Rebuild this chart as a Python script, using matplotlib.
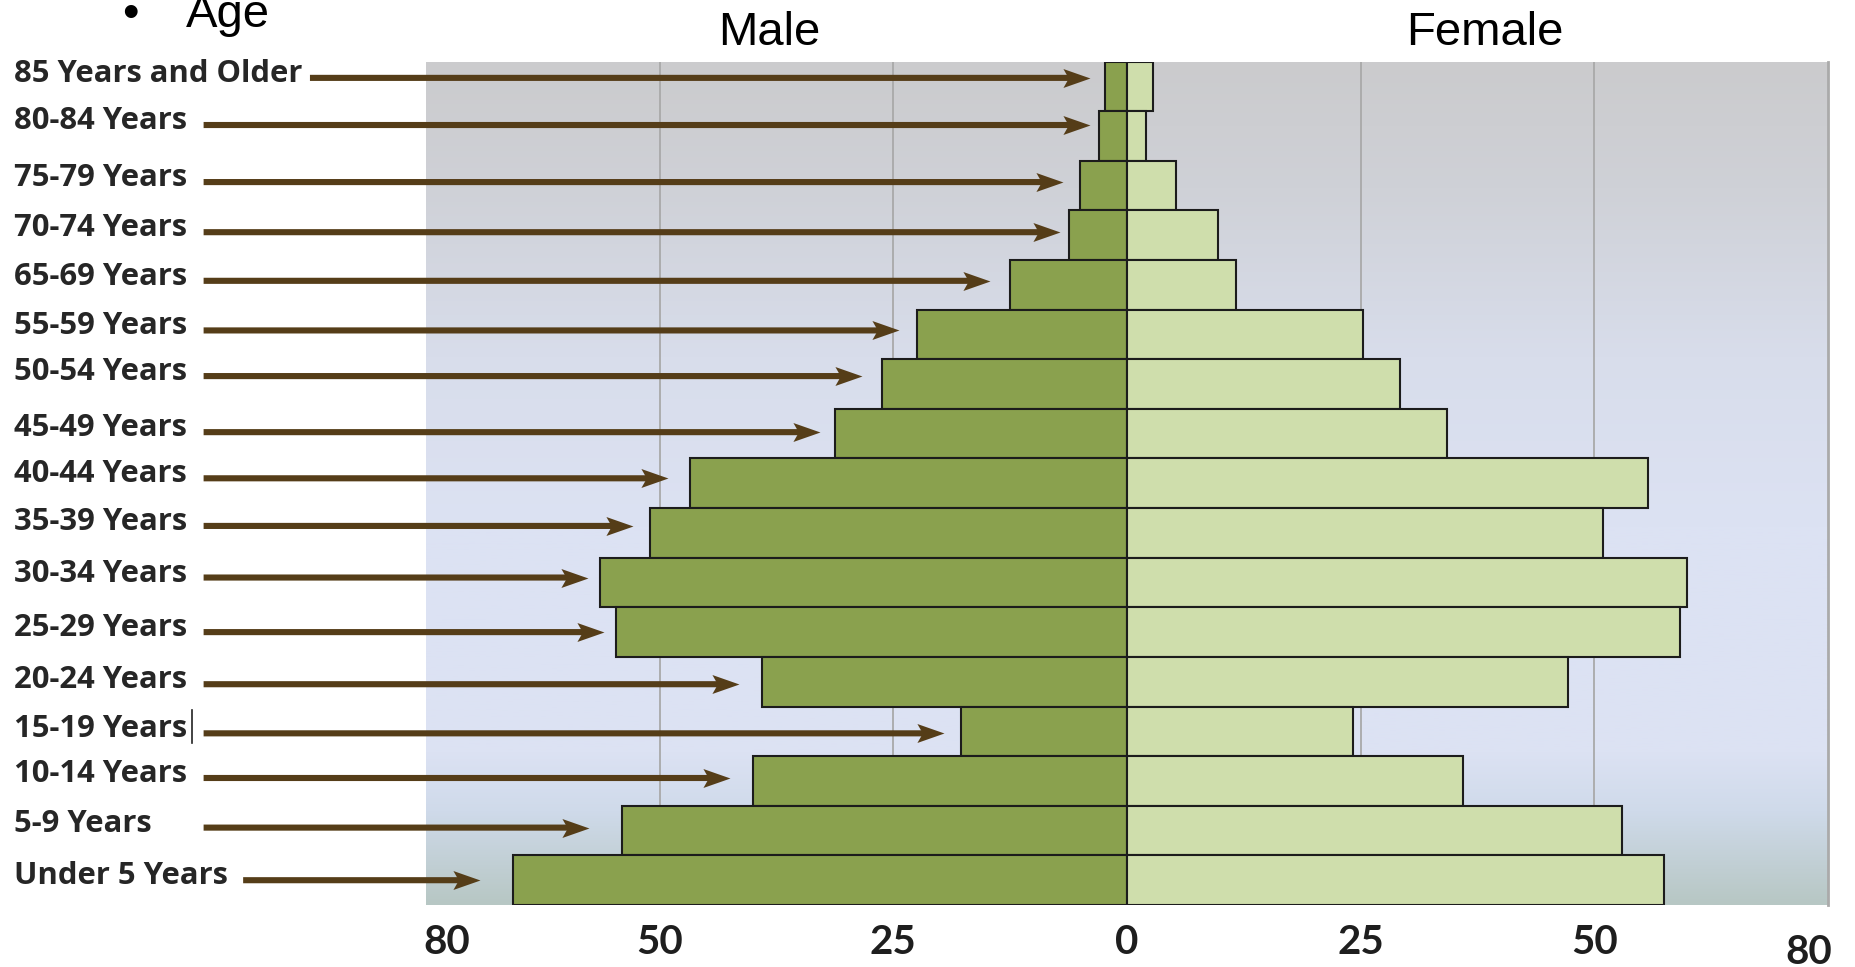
import numpy as np
import matplotlib
matplotlib.use("Agg")
import matplotlib.pyplot as plt
import matplotlib.transforms as mtransforms
from matplotlib.lines import Line2D
from matplotlib.path import Path

# age groups, top to bottom (the source chart has no 60-64 row)
age_groups = ["85 Years and Older", "80-84 Years", "75-79 Years", "70-74 Years",
              "65-69 Years", "55-59 Years", "50-54 Years", "45-49 Years",
              "40-44 Years", "35-39 Years", "30-34 Years", "25-29 Years",
              "20-24 Years", "15-19 Years", "10-14 Years", "5-9 Years",
              "Under 5 Years"]
male = [2.3, 3.0, 5.0, 6.2, 12.5, 22.5, 26.2, 31.2, 46.7, 51.0, 56.4, 54.7,
        39.0, 17.8, 40.0, 54.0, 65.7]
female = [2.8, 2.0, 5.2, 9.7, 11.7, 25.2, 29.2, 34.2, 55.7, 50.9, 59.9, 59.2,
          47.2, 24.2, 36.0, 53.0, 57.5]
# where each label arrow points (male side, chart units)
arrow_tips = [-4.0, -4.0, -6.8, -7.2, -14.7, -24.4, -28.4, -32.8, -49.1, -52.9,
              -57.7, -56.0, -41.5, -19.6, -42.5, -57.6, -69.2]
tick_vals = [-72.8, -50, -25, 0, 25, 50]
tick_labels = ["80", "50", "25", "0", "25", "50"]

# drawing tweaks for the overlay arrows (row offsets, start in figure fraction)
arrow_dy = [-0.17, -0.22, -0.07, -0.06, -0.08, -0.08, -0.16, -0.03, -0.10, -0.14,
            -0.10, 0.0, 0.05, 0.04, -0.06, -0.06, 0.0]
arrow_x0 = [0.167] + [0.1097] * 15 + [0.131]

male_col = "#8aa14e"
female_col = "#cfdeac"
arrow_col = "#553d18"
label_font = "Open Sans"
tick_font = "Lato"

# stealth-style arrow head, tip at the origin
head = Path([(0, 0), (-1, 0.35), (-0.8, 0), (-1, -0.35), (0, 0)],
            [Path.MOVETO, Path.LINETO, Path.LINETO, Path.LINETO, Path.CLOSEPOLY])

fig = plt.figure(figsize=(18.56, 9.67), dpi=100)
ax = fig.add_axes([0.2295, 0.0641, 0.9849 - 0.2295, 0.9364 - 0.0641])

ypos = np.arange(len(age_groups))

# background gradient (gray top -> lavender -> gray-teal bottom)
stops = [0.0, 0.15, 0.35, 0.55, 0.82, 0.89, 1.0]
cols = np.array([(203, 203, 205), (207, 209, 215), (216, 221, 235), (220, 226, 243),
                 (220, 226, 243), (207, 218, 234), (183, 199, 196)]) / 255
t = np.linspace(0, 1, 300)
grad = np.stack([np.interp(t, stops, cols[:, k]) for k in range(3)], axis=1)[:, None, :]
ax.imshow(grad, extent=[-75, 75, 16.5, -0.5], aspect="auto", zorder=0)

for g in [-50, -25, 25, 50]:
    ax.axvline(g, color="#a9a9a9", lw=1.3, zorder=1)

ax.barh(ypos, [-m for m in male], height=1.0, color=male_col,
        edgecolor="#1c1c1c", lw=1.5, zorder=2)
ax.barh(ypos, female, height=1.0, color=female_col,
        edgecolor="#1c1c1c", lw=1.5, zorder=2)

ax.set_xlim(-75, 75)
ax.set_ylim(16.5, -0.5)
ax.set_yticks([])
ax.set_xticks(tick_vals)
ax.set_xticklabels(tick_labels, fontsize=29, fontfamily=tick_font,
                   fontweight="bold", color="#1e1e1e")
ax.tick_params(axis="x", length=0, pad=14)
for s in ["top", "left", "bottom"]:
    ax.spines[s].set_visible(False)
ax.spines["right"].set_color("#aaaaaa")
ax.spines["right"].set_linewidth(2)

# right-hand "80" sits a bit lower in the source
ax.text(72.9, -0.034, "80", transform=ax.get_xaxis_transform(), ha="center",
        va="top", fontsize=29, fontfamily=tick_font, fontweight="bold",
        color="#1e1e1e")

# labels + arrows on the left
blend = mtransforms.blended_transform_factory(fig.transFigure, ax.transData)
ya_all = [i + d for i, d in zip(ypos, arrow_dy)]
for i, lab in enumerate(age_groups):
    ya = ya_all[i]
    ax.text(0.0075, ya + 0.08, lab, transform=blend, ha="left", va="baseline",
            fontsize=22.3, fontfamily=label_font, fontweight="bold",
            color="#262626", clip_on=False)
    # shaft stops under the head
    ax.annotate("", xy=(arrow_tips[i] - 1.8, ya), xycoords="data",
                xytext=(arrow_x0[i], ya), textcoords=("figure fraction", "data"),
                arrowprops=dict(arrowstyle="-", color=arrow_col, lw=4.4,
                                shrinkA=0, shrinkB=0, capstyle="butt"),
                annotation_clip=False, zorder=3)
ax.plot(arrow_tips, ya_all, ls="none", marker=head, markersize=39,
        color=arrow_col, markeredgewidth=0, zorder=4, clip_on=False)

# text cursor left behind after "15-19 Years"
fig.add_artist(Line2D([192 / 1856, 192 / 1856], [1 - 710 / 967, 1 - 743 / 967],
                      color="#222222", lw=1.2))

# column titles and the slide bullet
title_tr = mtransforms.blended_transform_factory(ax.transData, fig.transFigure)
ax.text(-38.3, 0.9535, "Male", transform=title_tr, ha="center", va="baseline",
        fontsize=34, fontfamily="Liberation Sans")
ax.text(38.3, 0.9535, "Female", transform=title_tr, ha="center", va="baseline",
        fontsize=34, fontfamily="Liberation Sans")
fig.text(186 / 1856, 1 - 27 / 967, "Age", ha="left", va="baseline", fontsize=34,
         fontfamily="Liberation Sans")
fig.text(130 / 1856, 1 - 27 / 967, "\u2022", ha="center", va="baseline", fontsize=34,
         fontfamily="Liberation Sans")

fig.savefig("out.png", dpi=100)
